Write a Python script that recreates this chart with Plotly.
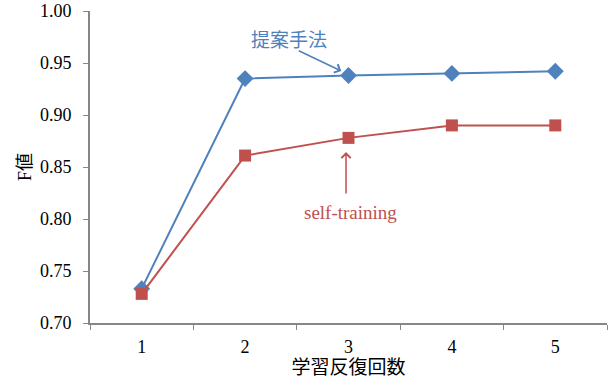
import plotly.graph_objects as go

categories = ["1", "2", "3", "4", "5"]
proposed = [0.733, 0.935, 0.938, 0.940, 0.942]
self_training = [0.728, 0.861, 0.878, 0.890, 0.890]
y_ticks = [0.70, 0.75, 0.80, 0.85, 0.90, 0.95, 1.00]

BLUE = "#4F81BD"
RED = "#C0504D"
AXIS = "#868686"
FONT = '"Liberation Serif", "Noto Sans CJK JP", serif'

fig = go.Figure()
fig.add_trace(go.Scatter(x=categories, y=proposed, mode="lines+markers",
                         line=dict(color=BLUE, width=2),
                         marker=dict(symbol="diamond", size=13, color=BLUE),
                         name="提案手法"))
fig.add_trace(go.Scatter(x=categories, y=self_training, mode="lines+markers",
                         line=dict(color=RED, width=2),
                         marker=dict(symbol="square", size=12, color=RED),
                         name="self-training"))

fig.update_layout(
    width=611, height=383,
    margin=dict(l=90, r=4, t=11, b=60),
    paper_bgcolor="white", plot_bgcolor="white",
    showlegend=False,
    font=dict(family=FONT, size=18, color="black"),
    xaxis=dict(type="category", range=[-0.5, 4.5], showline=True, linecolor=AXIS,
               linewidth=2, ticks="outside", tickson="boundaries", tickcolor=AXIS,
               ticklen=5, tickwidth=1, showgrid=False, zeroline=False,
               ticklabelstandoff=6, tickfont=dict(size=18), automargin=False,
               title=dict(text="学習反復回数", font=dict(size=19), standoff=0)),
    yaxis=dict(range=[0.70, 1.00], tickvals=y_ticks, tickformat=".2f",
               showline=True, linecolor=AXIS, linewidth=2, ticks="outside",
               tickcolor=AXIS, ticklen=5, tickwidth=1, showgrid=False,
               zeroline=False, ticklabelstandoff=8, tickfont=dict(size=18),
               automargin=False,
               title=dict(text="F値", font=dict(size=18), standoff=4)),
)

fig.add_annotation(x=1.93, y=0.9423, xref="x", yref="y", text="", showarrow=True,
                   ax=-44, ay=-21, arrowcolor=BLUE, arrowwidth=1.5, arrowhead=4,
                   arrowsize=1.2)
fig.add_annotation(x=1.425, y=0.972, xref="x", yref="y", text="提案手法",
                   showarrow=False, font=dict(color=BLUE, size=19))
fig.add_annotation(x=1.976, y=0.8644, xref="x", yref="y", text="", showarrow=True,
                   ax=0, ay=43, arrowcolor=RED, arrowwidth=1.5, arrowhead=4,
                   arrowsize=1.2)
fig.add_annotation(x=2.024, y=0.8067, xref="x", yref="y", text="self-training",
                   showarrow=False, font=dict(color=RED, size=19))

fig.write_html("out.html")
